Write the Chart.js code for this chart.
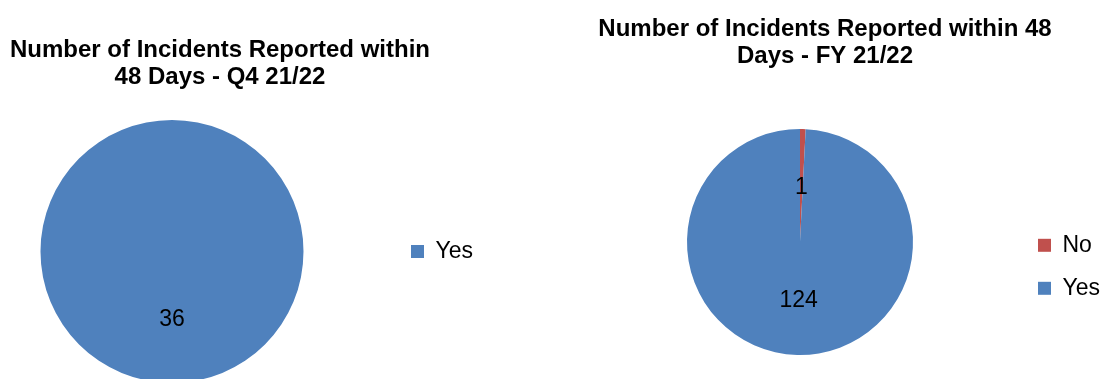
<!DOCTYPE html>
<html>
<head>
<meta charset="utf-8">
<script src="https://cdn.jsdelivr.net/npm/chart.js@4"></script>
<style>
  body { margin: 0; background: #fff; }
  #wrap { position: relative; width: 1100px; height: 379px; overflow: hidden; }
  canvas { position: absolute; top: 0; }
</style>
</head>
<body>
<div id="wrap">
  <canvas id="q4" width="526" height="400" style="left:-43px"></canvas>
  <canvas id="fy" width="570" height="379" style="left:540px"></canvas>
</div>
<script>
const q4Title = ['Number of Incidents Reported within', '48 Days - Q4 21/22'];
const q4Labels = ['Yes'];
const q4Values = [36];

const fyTitle = ['Number of Incidents Reported within 48', 'Days - FY 21/22'];
const fyLabels = ['No', 'Yes'];
const fyValues = [1, 124];

const sliceColors = {No: '#C0504D', Yes: '#4F81BD'};
const fontFamily = '"Liberation Sans", Arial, sans-serif';

// value in the middle of each slice, half way out from the centre
const sliceValues = {
  id: 'sliceValues',
  afterDatasetsDraw(chart) {
    const ctx = chart.ctx;
    const meta = chart.getDatasetMeta(0);
    ctx.save();
    ctx.font = '23px ' + fontFamily;
    ctx.fillStyle = '#000';
    ctx.textAlign = 'center';
    ctx.textBaseline = 'middle';
    meta.data.forEach((arc, i) => {
      const pos = arc.tooltipPosition();
      ctx.fillText(chart.data.datasets[0].data[i], pos.x, pos.y + 2);
    });
    ctx.restore();
  }
};

function makePie(id, title, labels, values, opts) {
  return new Chart(document.getElementById(id), {
    type: 'pie',
    data: {
      labels: labels,
      datasets: [{
        data: values,
        backgroundColor: labels.map(l => sliceColors[l]),
        borderWidth: 0
      }]
    },
    options: {
      responsive: false,
      devicePixelRatio: 1,
      animation: false,
      layout: {padding: opts.padding},
      plugins: {
        title: {
          display: true,
          text: title,
          color: '#000',
          font: {family: fontFamily, size: 24, weight: 'bold', lineHeight: 27 / 24},
          padding: opts.titlePadding
        },
        // empty box on the left, only there to push the pie right of the title centre
        subtitle: {
          display: true,
          position: 'left',
          fullSize: false,
          text: '',
          font: {size: 10, lineHeight: 1},
          padding: {top: opts.spacer / 2, bottom: opts.spacer / 2}
        },
        legend: {
          position: 'right',
          fullSize: false,
          title: {display: true, text: '', font: {size: 10}, padding: {top: opts.legendShift, bottom: 0}},
          labels: {
            color: '#000',
            font: {family: fontFamily, size: 23},
            boxWidth: 13,
            boxHeight: 13,
            padding: opts.legendPadding
          }
        },
        tooltip: {enabled: false}
      }
    },
    plugins: [sliceValues]
  });
}

makePie('q4', q4Title, q4Labels, q4Values, {
  padding: {left: 0, top: 0, right: 0, bottom: 17},
  titlePadding: {top: 36.5, bottom: 29.5},
  spacer: 0,
  legendPadding: 34,
  legendShift: -12
});

makePie('fy', fyTitle, fyLabels, fyValues, {
  padding: {left: 0, top: 0, right: 0, bottom: 24},
  titlePadding: {top: 15.5, bottom: 59.5},
  spacer: 32,
  legendPadding: 20,
  legendShift: 37.6
});
</script>
</body>
</html>
